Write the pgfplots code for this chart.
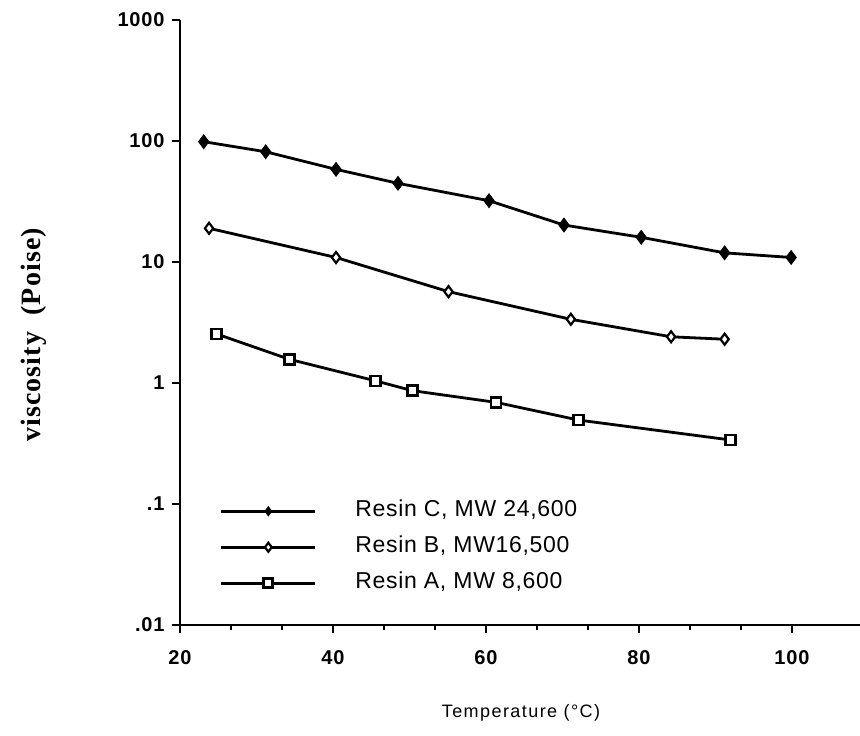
\documentclass[border=0pt]{standalone}
\usepackage{fontspec}
\setmainfont{Liberation Sans}
\newfontfamily\serifb{Liberation Serif}
\usepackage{pgfplots}
\pgfplotsset{compat=1.18}
\begin{document}
\begin{tikzpicture}
\path[use as bounding box] (-180pt,-111pt) rectangle (680pt,625pt);
\begin{axis}[
  at={(0pt,0pt)}, anchor=south west,
  scale only axis, width=680pt, height=605pt,
  ymode=log, log basis y=10,
  xmin=20, xmax=108.9, ymin=0.01, ymax=1000,
  axis x line*=bottom, axis y line*=left,
  axis line style={line width=2pt, -},
  xtick={20,40,60,80,100}, minor x tick num=2,
  ytick={0.01,0.1,1,10,100,1000},
  yticklabels={.01,.1,1,10,100,1000},
  tick align=outside,
  major tick length=8pt, minor tick length=5pt,
  every tick/.style={line width=1.5pt, black},
  /pgf/number format/assume math mode=true,
  tick label style={font=\fontsize{20}{22}\selectfont\bfseries\addfontfeature{LetterSpace=4}},
  xticklabel style={yshift=-14pt},
  yticklabel style={xshift=-4pt},
  legend cell align=left,
  legend style={draw=none, fill=none, at={(rel axis cs:0.054,0.209)}, anchor=north west,
    font=\fontsize{23}{26}\selectfont\addfontfeature{LetterSpace=3}, row sep=15pt,
    nodes={inner sep=0pt, text height=16pt, text depth=5pt}},
  legend image code/.code={%
    \draw[#1, mark repeat=2, mark phase=2, mark size=4.5pt] plot coordinates {(0pt,0pt) (47pt,0pt) (94pt,0pt)};
    \path[draw=none] (0pt,0pt) -- (134pt,0pt);},
]
\addplot[black, line width=2.8pt, mark=diamond*, mark size=6.8pt, mark options={solid, fill=black, line width=1pt}]
coordinates {(23.1,98.7) (31.2,81.5) (40.4,58.3) (48.5,44.7) (60.4,32.1) (70.2,20.2) (80.3,16.0) (91.2,11.9) (99.9,10.9)};
\addlegendentry{Resin C, MW 24,600}
\addplot[black, line width=2.8pt, mark=diamond*, mark size=5.5pt, mark options={solid, fill=white, line width=2.2pt}]
coordinates {(23.8,19.0) (40.4,10.9) (55.1,5.69) (71.1,3.36) (84.2,2.41) (91.2,2.30)};
\addlegendentry{Resin B, MW16,500}
\addplot[black, line width=2.8pt, mark=square*, mark size=5pt, mark options={solid, fill=white, line width=2.8pt}]
coordinates {(24.8,2.54) (34.3,1.57) (45.6,1.04) (50.4,0.864) (61.3,0.692) (72.1,0.494) (92.0,0.338)};
\addlegendentry{Resin A, MW 8,600}
\end{axis}
\node[rotate=90, font=\serifb\bfseries\fontsize{28}{32}\selectfont\addfontfeature{LetterSpace=4}] at (-146pt,290pt) {viscosity\ \ (Poise)};
\node[font=\fontsize{18}{20}\selectfont\addfontfeature{LetterSpace=8}] at (341pt,-88pt) {Temperature (°C)};
\end{tikzpicture}
\end{document}
